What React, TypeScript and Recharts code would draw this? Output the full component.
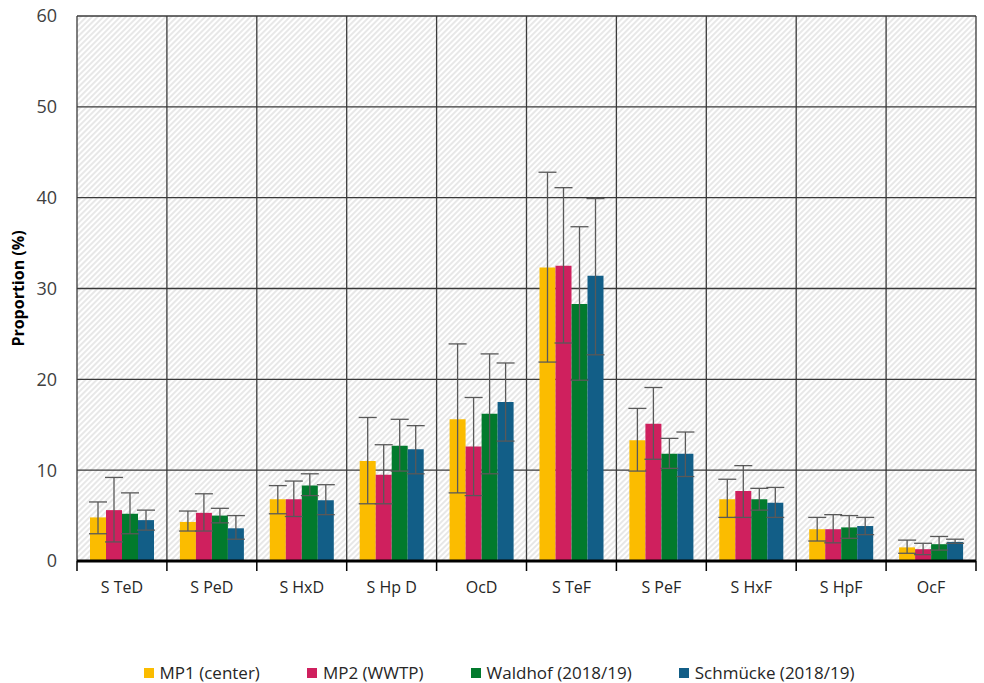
import React from 'react'
import { BarChart, Bar, XAxis, YAxis, CartesianGrid, ErrorBar, Legend } from 'recharts'

const CATEGORIES = ['S TeD', 'S PeD', 'S HxD', 'S Hp D', 'OcD', 'S TeF', 'S PeF', 'S HxF', 'S HpF', 'OcF']

const SERIES = ['MP1 (center)', 'MP2 (WWTP)', 'Waldhof (2018/19)', 'Schmücke (2018/19)']
const COLORS = ['#fbbc00', '#cf205e', '#027a2d', '#125e87']

// mean values per series
const MP1 = [4.8, 4.3, 6.8, 11.0, 15.6, 32.3, 13.3, 6.8, 3.5, 1.5]
const MP2 = [5.6, 5.3, 6.8, 9.5, 12.6, 32.5, 15.1, 7.7, 3.5, 1.3]
const WALDHOF = [5.2, 5.0, 8.3, 12.7, 16.2, 28.3, 11.8, 6.8, 3.7, 1.85]
const SCHMUECKE = [4.5, 3.6, 6.7, 12.3, 17.5, 31.4, 11.8, 6.4, 3.85, 2.1]

// whisker ends (low / high)
const MP1_LO = [3.0, 3.3, 5.2, 6.3, 7.5, 21.9, 9.9, 4.8, 2.2, 0.85]
const MP1_HI = [6.5, 5.5, 8.3, 15.8, 23.9, 42.8, 16.8, 9.0, 4.8, 2.3]
const MP2_LO = [2.1, 3.3, 4.9, 6.3, 7.2, 24.0, 11.2, 4.8, 2.0, 0.7]
const MP2_HI = [9.2, 7.4, 8.8, 12.8, 18.0, 41.1, 19.1, 10.5, 5.1, 1.95]
const WALDHOF_LO = [3.0, 4.2, 7.2, 9.9, 9.6, 19.9, 10.2, 5.6, 2.5, 1.2]
const WALDHOF_HI = [7.5, 5.8, 9.6, 15.6, 22.8, 36.8, 13.5, 8.0, 5.0, 2.7]
const SCHMUECKE_LO = [3.4, 2.4, 5.1, 9.6, 13.2, 22.7, 9.3, 4.8, 2.9, 1.95]
const SCHMUECKE_HI = [5.6, 5.0, 8.4, 14.9, 21.8, 39.9, 14.2, 8.1, 4.8, 2.4]

const Y_TICKS = [0, 10, 20, 30, 40, 50, 60]

const MEANS = [MP1, MP2, WALDHOF, SCHMUECKE]
const LOWS = [MP1_LO, MP2_LO, WALDHOF_LO, SCHMUECKE_LO]
const HIGHS = [MP1_HI, MP2_HI, WALDHOF_HI, SCHMUECKE_HI]

const data = CATEGORIES.map((cat, i) => {
  const row: any = { cat }
  MEANS.forEach((arr, s) => {
    row['s' + s] = arr[i]
    row['e' + s] = [arr[i] - LOWS[s][i], HIGHS[s][i] - arr[i]]
  })
  return row
})

const W = 984
const H = 683
const M = { top: 16, right: 8, left: 0, bottom: 0 }
const Y_W = 77
const PLOT_W = W - M.left - M.right - Y_W
const BAND = PLOT_W / CATEGORIES.length

const XTick = ({ x, y, payload, index }: any) => (
  <g>
    <line x1={x - BAND / 2} x2={x - BAND / 2} y1={y - 8} y2={y + 2} stroke="#000" strokeWidth={1.5} />
    {index === CATEGORIES.length - 1 && (
      <line x1={x + BAND / 2} x2={x + BAND / 2} y1={y - 8} y2={y + 2} stroke="#000" strokeWidth={1.5} />
    )}
    <text x={x} y={y + 24} textAnchor="middle" fill="#262626" fontSize={16} fontFamily="'Open Sans', sans-serif">
      {payload.value}
    </text>
  </g>
)

const LegendContent = () => (
  <div style={{ display: 'flex', justifyContent: 'center', gap: 47, paddingTop: 40, fontFamily: "'Open Sans', sans-serif", fontSize: 17, color: '#262626', marginLeft: 22 }}>
    {SERIES.map((s, i) => (
      <div key={s} style={{ display: 'flex', alignItems: 'center', gap: 6 }}>
        <span style={{ display: 'inline-block', width: 10, height: 10, background: COLORS[i] }} />
        <span>{s}</span>
      </div>
    ))}
  </div>
)

export default function App() {
  return (
    <div style={{ position: 'absolute', left: 0, top: 0, width: W, height: H, background: '#fff' }}>
      <svg width={0} height={0} style={{ position: 'absolute' }}>
        <defs>
          <pattern id="hatch" width={4} height={4} patternUnits="userSpaceOnUse" patternTransform="rotate(45)">
            <rect width={4} height={4} fill="#ffffff" />
            <line x1={1} y1={0} x2={1} y2={4} stroke="#dedede" strokeWidth={1.4} />
          </pattern>
        </defs>
      </svg>
      <BarChart width={W} height={H} data={data} margin={M} barCategoryGap={13} barGap={0}>
        <CartesianGrid
          fill="url(#hatch)"
          stroke="#3a3a3a"
          strokeWidth={1.3}
          verticalCoordinatesGenerator={({ offset }: any) =>
            CATEGORIES.map((_, i) => offset.left + (i * offset.width) / CATEGORIES.length).concat([offset.left + offset.width])
          }
        />
        <XAxis
          dataKey="cat"
          height={60}
          tick={<XTick />}
          tickLine={false}
          axisLine={{ stroke: '#000', strokeWidth: 3 }}
          interval={0}
        />
        <YAxis
          width={Y_W}
          domain={[0, 60]}
          ticks={Y_TICKS}
          axisLine={false}
          tickLine={false}
          tickMargin={14}
          tick={{ fill: '#404040', fontSize: 18, fontFamily: "'Open Sans', sans-serif" }}
          label={{ value: 'Proportion (%)', angle: -90, position: 'insideLeft', dx: 13, style: { textAnchor: 'middle', fontWeight: 'bold', fontSize: 16, fill: '#000', fontFamily: "'Open Sans', sans-serif" } }}
        />
        <Legend verticalAlign="bottom" content={<LegendContent />} wrapperStyle={{ height: 62 }} />
        {SERIES.map((s, i) => (
          <Bar key={s} dataKey={'s' + i} name={s} fill={COLORS[i]} isAnimationActive={false}>
            <ErrorBar dataKey={'e' + i} width={9} stroke="#595959" strokeWidth={1.3} direction="y" />
          </Bar>
        ))}
      </BarChart>
    </div>
  )
}
